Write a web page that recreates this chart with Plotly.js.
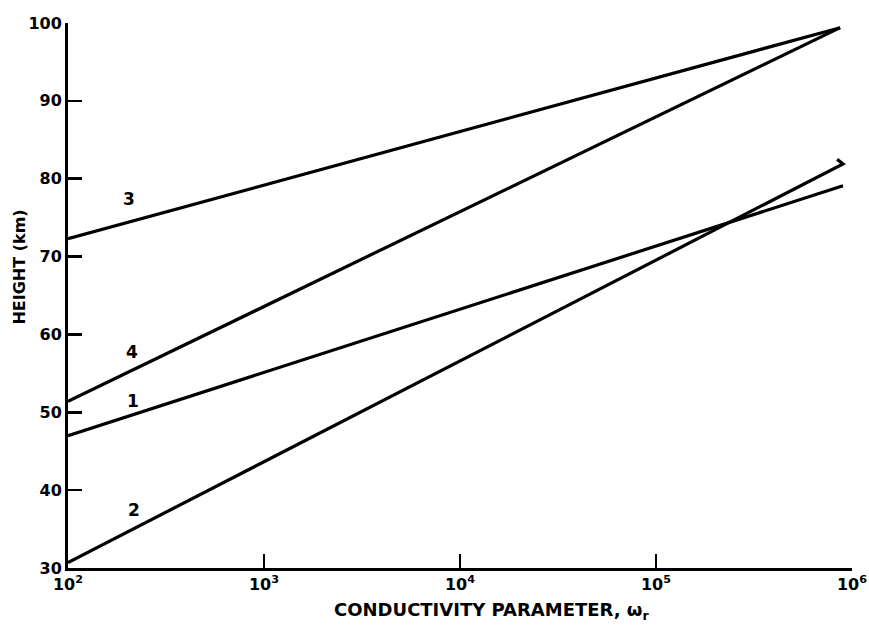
<!DOCTYPE html>
<html>
<head>
<meta charset="utf-8">
<script src="https://cdn.plot.ly/plotly-3.0.1.min.js"></script>
<style>
  html, body { margin: 0; padding: 0; background: #ffffff; }
  #chart { width: 869px; height: 630px; }
</style>
</head>
<body>
<div id="chart"></div>
<script>
// ---- data ----
const curve1X = [100, 9.0e5];
const curve1Y = [47.0, 79.1];

const curve2X = [100, 9.0e5, 8.4e5];
const curve2Y = [30.7, 81.9, 82.5];

const curve3X = [100, 8.7e5];
const curve3Y = [72.3, 99.4];

const curve4X = [100, 8.7e5];
const curve4Y = [51.4, 99.4];

const curveLabels = ["1", "2", "3", "4"];
const labelX = [215, 218, 205, 212];
const labelY = [51.5, 37.4, 77.4, 57.8];

const xTickVals = [1e2, 1e3, 1e4, 1e5, 1e6];
const xTickText = ["10<sup>2</sup>", "10<sup>3</sup>", "10<sup>4</sup>", "10<sup>5</sup>", "10<sup>6</sup>"];
const yTickVals = [30, 40, 50, 60, 70, 80, 90, 100];

const xTitle = "CONDUCTIVITY PARAMETER, ω<sub>r</sub>";
const yTitle = "HEIGHT (km)";

// ---- chart ----
const FONT = "DejaVu Sans, Arial, sans-serif";
const lineStyle = { color: "#000000", width: 3.2 };

function tr(x, y) {
  return { x: x, y: y, type: "scatter", mode: "lines", line: lineStyle,
           hoverinfo: "skip", showlegend: false };
}

const traces = [
  tr(curve1X, curve1Y),
  tr(curve2X, curve2Y),
  tr(curve3X, curve3Y),
  tr(curve4X, curve4Y)
];

const annotations = curveLabels.map((t, i) => ({
  x: Math.log10(labelX[i]), y: labelY[i], xref: "x", yref: "y",
  text: t, showarrow: false,
  font: { family: FONT, size: 17, color: "#000", weight: "bold" }
}));

annotations.push({
  x: 0.541, y: -0.079, xref: "paper", yref: "paper",
  xanchor: "center", yanchor: "middle",
  text: xTitle, showarrow: false,
  font: { family: FONT, size: 18, color: "#000", weight: "bold" }
});
annotations.push({
  x: -0.062, y: 0.552, xref: "paper", yref: "paper",
  xanchor: "center", yanchor: "middle", textangle: -90,
  text: yTitle, showarrow: false,
  font: { family: FONT, size: 16, color: "#000", weight: "bold" }
});

const layout = {
  width: 869, height: 630,
  margin: { l: 68, r: 17, t: 23, b: 62, pad: 0 },
  paper_bgcolor: "#ffffff", plot_bgcolor: "#ffffff",
  showlegend: false,
  xaxis: {
    type: "log", range: [2, 6],
    tickvals: xTickVals, ticktext: xTickText,
    ticks: "inside", ticklen: 14, tickwidth: 2.5, tickcolor: "#000",
    showline: true, linewidth: 3, linecolor: "#000",
    showgrid: false, zeroline: false, mirror: false,
    tickfont: { family: FONT, size: 16, color: "#000", weight: "bold" }
  },
  yaxis: {
    range: [30, 100],
    tickvals: yTickVals,
    ticks: "inside", ticklen: 14, tickwidth: 2.5, tickcolor: "#000",
    showline: true, linewidth: 3, linecolor: "#000",
    showgrid: false, zeroline: false, mirror: false,
    tickfont: { family: FONT, size: 16, color: "#000", weight: "bold" }
  },
  annotations: annotations
};

Plotly.newPlot("chart", traces, layout, { staticPlot: true, displayModeBar: false });
</script>
</body>
</html>
